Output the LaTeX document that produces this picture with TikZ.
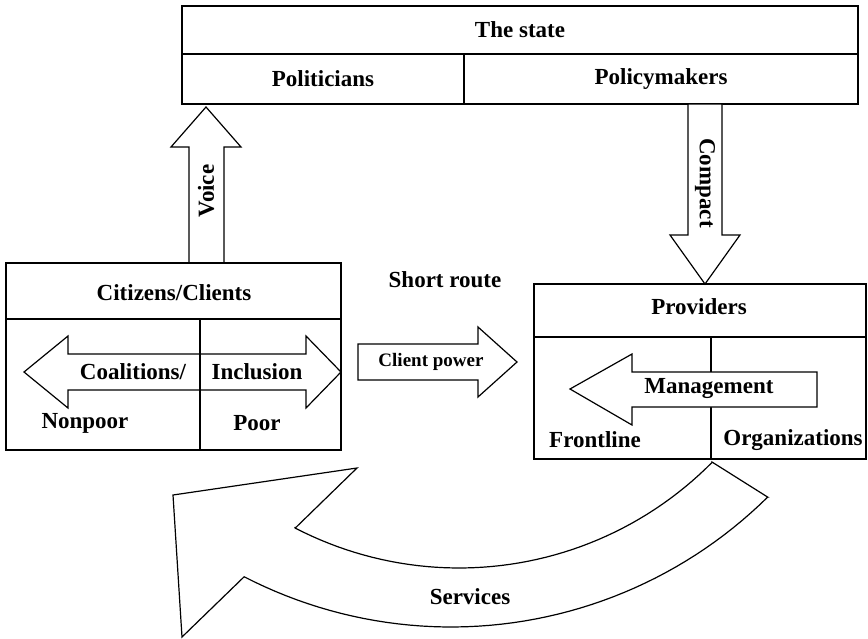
\documentclass[tikz,border=0pt]{standalone}
\usepackage{fontspec}
\setmainfont{Liberation Serif}
\begin{document}
\tikzset{
  box/.style={draw, line width=1.2pt},
  lbl/.style={font=\bfseries\fontsize{23}{26}\selectfont, inner sep=0pt},
  sml/.style={font=\bfseries\fontsize{19}{22}\selectfont, inner sep=0pt},
  blk/.style={draw, line width=1.2pt, fill=white, line join=miter},
}
\begin{tikzpicture}[x=1pt,y=-1pt]
\useasboundingbox (0,0) rectangle (868,638);
% The state
\draw[box] (182,6) rectangle (858,104);
\draw[box] (182,54) -- (858,54);
\draw[box] (464,54) -- (464,104);
\node[lbl] (state) at (520,30) {The state};
\node[lbl] (pol) at (323,79) {Politicians};
\node[lbl] (polm) at (661,79) {Policymakers};
% Voice arrow
\draw[blk] (189,263) -- (189,147) -- (171,147) -- (206,107) -- (241,147) -- (224,147) -- (224,263) -- cycle;
\node[lbl, rotate=90] (voice) at (206,191) {Voice};
% Compact arrow
\draw[blk] (688,104) -- (688,235) -- (670,235) -- (705,284) -- (740,235) -- (722,235) -- (722,104) -- cycle;
\node[lbl, rotate=-90] (compact) at (705,183) {Compact};
% Citizens box
\draw[box] (6,263) rectangle (341,450);
\draw[box] (6,319) -- (341,319);
\node[lbl] (cit) at (174,293) {Citizens/Clients};
\draw[blk, fill=none] (24,372) -- (68,336) -- (68,354) -- (306,354) -- (306,336) -- (341,372) -- (306,408) -- (306,390) -- (68,390) -- (68,408) -- cycle;
\draw[box] (200,319) -- (200,450);
\node[lbl] (coal) at (133,372) {Coalitions/};
\node[lbl] (incl) at (257,372) {Inclusion};
\node[lbl] (nonpoor) at (85,423) {Nonpoor};
\node[lbl] (poor) at (257,423) {Poor};
% Short route
\node[lbl] (short) at (445,280) {Short route};
\draw[blk] (358,344) -- (478,344) -- (478,327) -- (517,362) -- (478,397) -- (478,380) -- (358,380) -- cycle;
\node[sml] (cp) at (431,362) {Client power};
% Providers
\draw[box] (534,284) rectangle (866,459);
\draw[box] (534,337) -- (866,337);
\draw[box] (711,337) -- (711,459);
\node[lbl] (prov) at (699,307) {Providers};
\draw[blk] (570,389) -- (632,354) -- (632,372) -- (817,372) -- (817,407) -- (632,407) -- (632,425) -- cycle;
\node[lbl] (mgmt) at (709,389) {Management};
\node[lbl] (front) at (595,440) {Frontline};
\node[lbl] (org) at (793,440) {Organizations};
% Services
\draw[blk] (712,462) -- (767.7,497.1)
  -- plot[domain=45.4:117.3, samples=50] ({451+451*cos(\x)},{176+451*sin(\x)})
  -- (182,637) -- (173,495) -- (357,468) -- (295.2,528.1)
  -- plot[domain=117.4:44.7, samples=50] ({459+356*cos(\x)},{212+356*sin(\x)})
  -- cycle;
\node[lbl] (serv) at (470,597) {Services};
\end{tikzpicture}
\end{document}
